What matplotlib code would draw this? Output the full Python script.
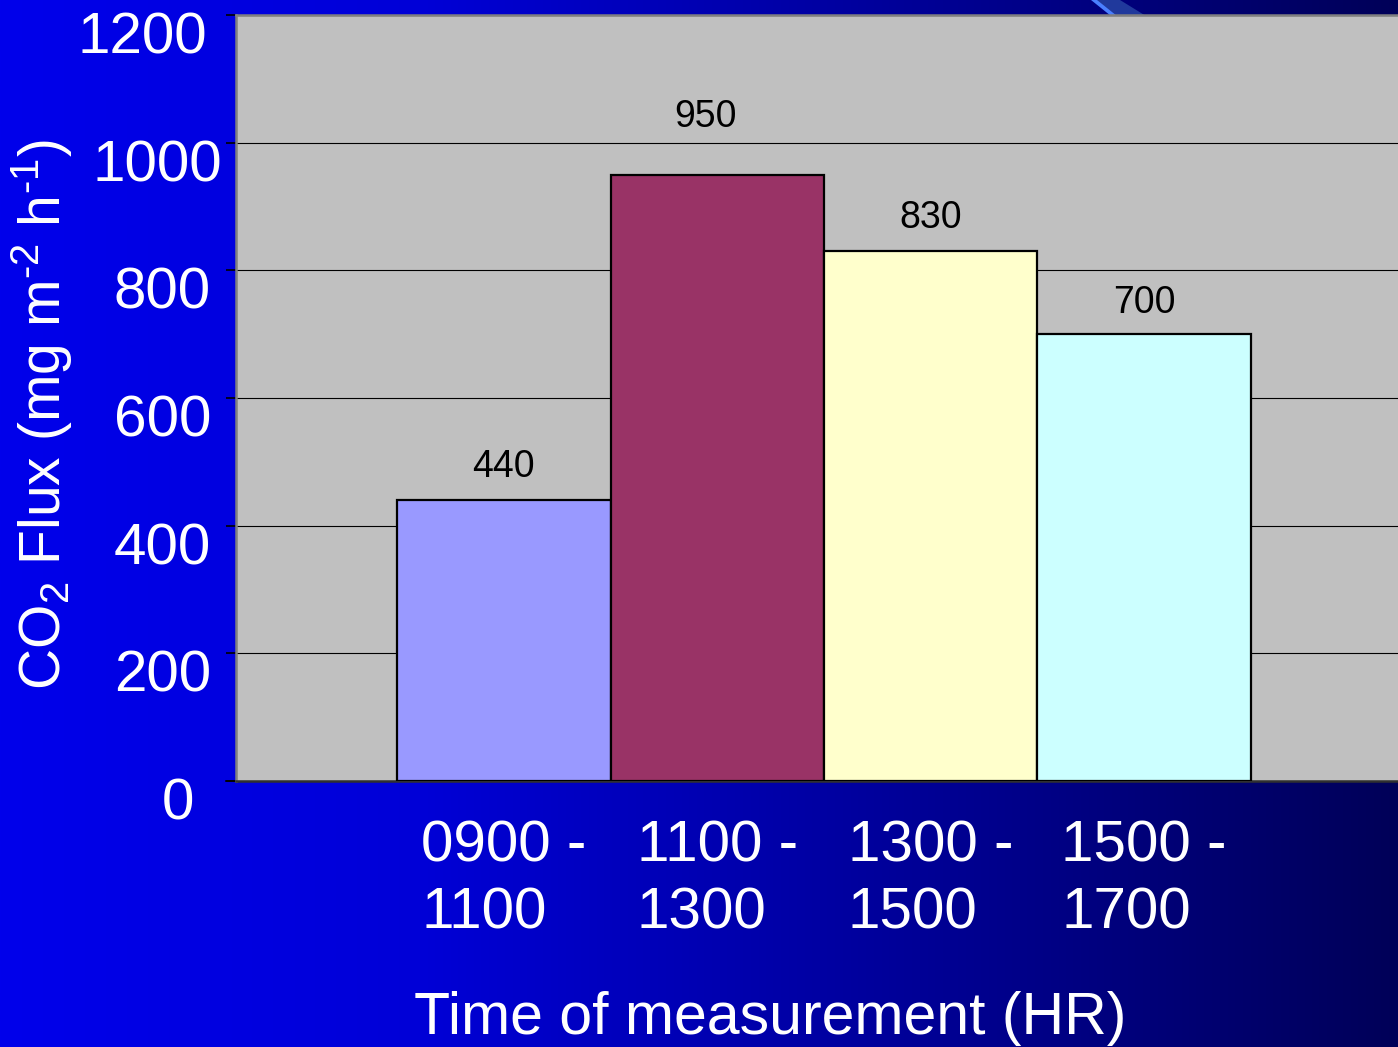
import numpy as np
import matplotlib
matplotlib.use("Agg")
import matplotlib.pyplot as plt
from matplotlib.transforms import ScaledTranslation
from matplotlib.patches import Polygon

plt.rcParams['font.family'] = ['Liberation Sans', 'DejaVu Sans']
plt.rcParams['mathtext.fontset'] = 'custom'
plt.rcParams['mathtext.rm'] = 'Liberation Sans'
plt.rcParams['mathtext.it'] = 'Liberation Sans'

# Data
periods = ["0900 -\n1100", "1100 -\n1300", "1300 -\n1500", "1500 -\n1700"]
co2_flux = [440, 950, 830, 700]
bar_colors = ["#9999FF", "#993366", "#FFFFCC", "#CCFFFF"]
y_ticks = [0, 200, 400, 600, 800, 1000, 1200]

W, H = 1398, 1047
fig = plt.figure(figsize=(W / 100, H / 100), dpi=100)

# Slide background: horizontal blue gradient
bg = fig.add_axes([0, 0, 1, 1], zorder=0)
xs = np.linspace(0, 1, 512)
blue = np.interp(xs, [0.0, 0.3, 1.0], [235, 215, 88]) / 255.0
grad = np.zeros((2, xs.size, 3))
grad[:, :, 2] = blue
bg.imshow(grad, aspect='auto', extent=[0, W, 0, H], origin='lower')
# diagonal accent stripes near the top edge
bg.add_patch(Polygon([[1095, H], [1120, H], [1146, H - 16], [1113, H - 16]],
                     closed=True, color="#20399C", lw=0))
bg.add_patch(Polygon([[1091, H], [1097, H], [1117, H - 16], [1111, H - 16]],
                     closed=True, color="#4A7FFF", lw=0))
bg.set_xlim(0, W)
bg.set_ylim(0, H)
bg.axis('off')

# Chart plot area
left, right, top, bottom = 236, 1412, 15, 781
ax = fig.add_axes([left / W, 1 - bottom / H, (right - left) / W, (bottom - top) / H], zorder=1)
ax.set_facecolor("#C0C0C0")

x = np.arange(len(periods))
ax.bar(x, co2_flux, width=1.0, color=bar_colors, edgecolor="black", linewidth=1.6, zorder=3)

ax.set_xlim(-1.255, 4.255)
ax.set_ylim(0, 1200)

ax.set_yticks(y_ticks)
ax.set_yticklabels([str(v) for v in y_ticks])
ax.yaxis.grid(True, color="black", linewidth=0.8, zorder=1)
ax.set_axisbelow(True)
ax.tick_params(axis='y', length=7.5, width=1.2, color="black", pad=10.5,
               labelsize=42, labelcolor="white")

# small per-label nudges of the y tick labels
nudge_x = [-12, 0, 0, 0, 0, 8, -3]
for lbl, dx in zip(ax.get_yticklabels(), nudge_x):
    lbl.set_transform(lbl.get_transform() + ScaledTranslation(dx / 72, -12.5 / 72, fig.dpi_scale_trans))

ax.set_xticks(x)
ax.set_xticklabels(periods, multialignment='left', linespacing=1.31)
ax.tick_params(axis='x', length=0, pad=28, labelsize=42, labelcolor="white")

for side in ("left", "top"):
    ax.spines[side].set_color("#808080")
    ax.spines[side].set_linewidth(1.8)
ax.spines["bottom"].set_color("#303030")
ax.spines["bottom"].set_linewidth(1.8)
ax.spines["right"].set_visible(False)

# short stub extending the baseline to the left
ax.plot([-10 / (right - left), 0], [0, 0], transform=ax.transAxes, color="black", lw=1.2, clip_on=False)

# value labels above the bars
label_offset = [52, 90, 52, 49]
label_dx = [0, -0.055, 0, 0]
for xi, v, off, dx in zip(x, co2_flux, label_offset, label_dx):
    ax.text(xi + dx, v + off, str(v), ha='center', va='center', fontsize=27, color="black", zorder=4)

# axis titles
fig.text(770 / W, 1 - 1019 / H, "Time of measurement (HR)", ha='center', va='center',
         fontsize=42.5, color="white")
fig.text(42 / W, 1 - 415 / H,
         r"CO$_\mathregular{2}$ Flux (mg m$^\text{-2}$ h$^\text{-1}$)",
         ha='center', va='center', rotation=90, fontsize=41, color="white")

fig.savefig("out.png", dpi=100)
